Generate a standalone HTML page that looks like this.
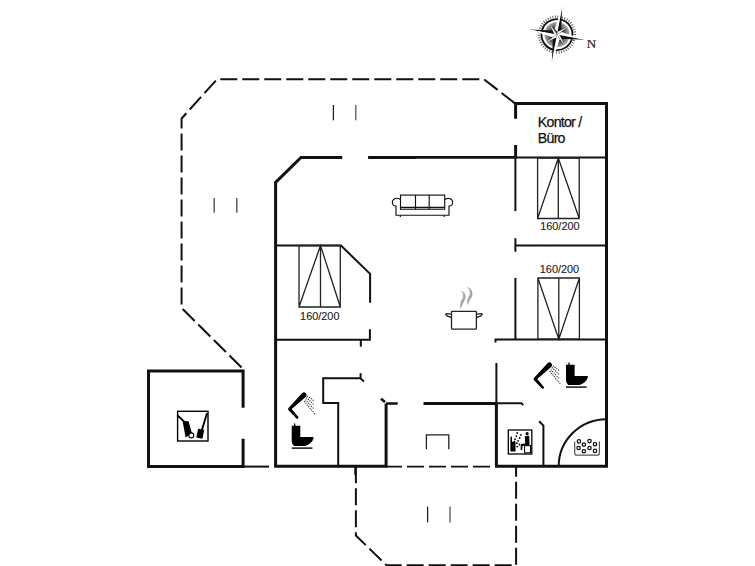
<!DOCTYPE html>
<html><head><meta charset="utf-8">
<style>
html,body{margin:0;padding:0;background:#fff;width:755px;height:566px;overflow:hidden}
svg{display:block}
text{font-family:"Liberation Sans",sans-serif;fill:#222}
</style></head><body>
<svg width="755" height="566" viewBox="0 0 755 566">
<g fill="none" stroke="#111" stroke-linecap="butt">
<!-- terraces dashed -->
<g stroke-width="2" stroke-dasharray="17 5">
<path d="M515,103.4 L484,79.3 L217,79.3 L181.6,118.5 L181.6,308 L243.1,369"/>
<path d="M355.9,466.3 L355.9,535.5 L386.5,565.2 L516.1,565.2 L516.1,466.3"/>
<path d="M386,466.6 L494,466.6" stroke-width="1.8" stroke-dashoffset="1"/>
</g>
<!-- terrace marks -->
<g stroke-width="1.3" stroke="#222">
<path d="M333.4,105V120.3"/><path d="M355.8,105V120.3" stroke="#555"/>
<path d="M214.2,198V212.8" stroke="#444"/><path d="M236.8,198V212.8" stroke="#444"/>
<path d="M427.6,506.6V522.4"/><path d="M450,506.6V522.4" stroke="#555"/>
</g>
<!-- thick walls -->
<g stroke-width="3">
<path d="M342.2,157.4 H301 L275.6,182.4 V466.2"/>
<path d="M368.1,157.4 H416.3"/>
<path d="M416,157.4 H515.5" stroke-width="2.6"/>
<path d="M515.6,118.7 V103.4 H606.5 V466.3 H496.4 V403.5"/>
<path d="M515.6,145 V157.4"/>
<path d="M274.1,466.2 H386.1 V403.5"/>
<path d="M423.5,403.5 H496.4"/>
<path d="M243.1,407.8 V371 H148.5 V466.6 H243.1 V438.8"/>
</g>
<!-- thin walls -->
<g stroke-width="2">
<path d="M515.6,157.4 H606.5"/>
<path d="M515.4,157.4 V211.1"/>
<path d="M515.4,238.2 V251.7 M515.4,245.6 H606.5"/>
<path d="M515.4,277.9 V339.6"/>
<path d="M275.6,245.6 H341 L370.1,273.9 V302.7"/>
<path d="M275.6,339.7 H369.9 V329.2"/>
<path d="M360.8,339.7 V346.7"/>
<path d="M323.2,378.2 H360.3 L364,381.4 M360.6,373.2 V378.2"/>
<path d="M323.2,377.2 V403.1 H338.2 V466.2"/>
<path d="M386.1,403.5 H397.7 M381,398.7 L385,401.9" stroke-width="2.6"/>
<path d="M495.5,342.5 V339.6 H606.5"/>
<path d="M496.4,363 V403.5"/>
<path d="M496.4,403.2 H521.4 L523.2,405.2"/>
<path d="M539.1,421.3 L543.4,425.6 V466.3"/>
<path d="M243.1,466.6 H269.1"/>
<path d="M355.3,466.3 V475"/>
<path d="M558.7,466.3 A47.8,47.1 0 0 1 606.5,419.2"/>
</g>
<!-- beds -->
<g stroke-width="1.3" stroke="#222">
<path d="M537.6,158 H579.2 V218.5 H537.6 Z M558.3,158 V218.5 M537.6,218.5 L558.3,158 L579.2,218.5"/>
<path d="M537.9,278 H579.4 V339.2 H537.9 Z M558.8,278 V339.2 M537.9,278 L558.8,339.2 L579.4,278"/>
<path d="M299,245.5 H340.3 V307 H299 Z M320.5,245.5 V307 M299,307 L320.5,245.5 L340.3,307"/>
</g>
<!-- step -->
<path d="M426.4,449.2 V434.8 H448.8 V449.2" stroke-width="1.3" stroke="#222"/>
</g>
<g font-size="10.9" text-anchor="middle" style="fill:#1a1a1a;stroke:#1a1a1a;stroke-width:0.12">
<text x="559.9" y="229.8">160/200</text>
<text x="559.5" y="273">160/200</text>
<text x="319.8" y="320.4">160/200</text>
</g>
<text x="537.8" y="126.8" font-size="14.2" letter-spacing="-0.75" style="fill:#111;stroke:#111;stroke-width:0.25">Kontor /</text>
<text x="537.8" y="143.2" font-size="14.2" letter-spacing="-0.75" style="fill:#111;stroke:#111;stroke-width:0.25">Büro</text>

<g transform="translate(291.7,423)"><path d="M0,2.8 H2.2 L2.6,0.3 H3.4 L3.8,2.8 H8.6 V14 H21.8 V15.5 Q20,21 13.5,23 H2.3 Q0.3,21.5 0,18.5 Z" fill="#000"/><rect x="0" y="24.4" width="20.7" height="1.4" fill="#000"/></g>
<g transform="translate(566,362)"><path d="M0,2.8 H2.2 L2.6,0.3 H3.4 L3.8,2.8 H8.6 V14 H21.8 V15.5 Q20,21 13.5,23 H2.3 Q0.3,21.5 0,18.5 Z" fill="#000"/><rect x="0" y="24.4" width="20.7" height="1.4" fill="#000"/></g>
<g transform="translate(-245.5,30)">
<path d="M547.77,363.06 L534.17,377.76 Q532.84,378.90 534.07,380.14 L541.89,388.38 A1.20,1.20 0 0 0 543.71,386.82 L537.24,379.07 L551.43,366.74 A2.60,2.60 0 0 0 547.77,363.06 Z" fill="#000"/>
<g stroke="#222" stroke-width="1.05" stroke-dasharray="1.1 1.1" fill="none">
<path d="M552.8,365.9 L559.2,370.7"/><path d="M551.8,367.5 L559.7,374.9"/><path d="M550.7,369.6 L559.2,378.6"/><path d="M549.7,371.2 L560.3,383.9"/>
</g>
</g>
<g>
<path d="M547.77,363.06 L534.17,377.76 Q532.84,378.90 534.07,380.14 L541.89,388.38 A1.20,1.20 0 0 0 543.71,386.82 L537.24,379.07 L551.43,366.74 A2.60,2.60 0 0 0 547.77,363.06 Z" fill="#000"/>
<g stroke="#222" stroke-width="1.05" stroke-dasharray="1.1 1.1" fill="none">
<path d="M552.8,365.9 L559.2,370.7"/><path d="M551.8,367.5 L559.7,374.9"/><path d="M550.7,369.6 L559.2,378.6"/><path d="M549.7,371.2 L560.3,383.9"/>
</g>
</g>
<!-- sauna -->
<g>
<rect x="508.3" y="430" width="23.5" height="24" fill="none" stroke="#000" stroke-width="1.3"/>
<path d="M510.4,451.6 V437 Q511.2,435.8 512,437 V441.5 L513,442 L514.5,440.5 L515.5,442 V451.6 Z" fill="#000"/>
<g fill="#000"><circle cx="517.2" cy="433" r="0.9"/><circle cx="520.9" cy="434.9" r="0.9"/><circle cx="516.3" cy="436.1" r="0.9"/><circle cx="519.7" cy="438" r="0.9"/><circle cx="515.1" cy="439.2" r="0.9"/><circle cx="518.2" cy="440.8" r="0.9"/><circle cx="516.9" cy="443.2" r="0.9"/><circle cx="519.4" cy="444.5" r="0.9"/><circle cx="517.2" cy="446.6" r="0.9"/>
<circle cx="527.1" cy="433.7" r="1.6"/>
<path d="M524.8,436.3 L529.2,435.8 L529.6,445.5 L522.5,446 L522.2,450 L520.6,450 L520.8,444 L525.2,443.5 Z"/></g>
<rect x="524.6" y="445.7" width="5.9" height="7.1" fill="#fff" stroke="#000" stroke-width="1"/>
</g>
<!-- whirlpool -->
<g fill="none" stroke="#333" stroke-width="1.1">
<path d="M574.7,441.6 V452.9 Q574.7,455.2 577,455.2 H597 Q599.4,455.2 599.4,452.9 V441.6" stroke="#555" stroke-width="1.2"/>
<g fill="#fff" stroke="#111" stroke-width="1.25">
<circle cx="578.9" cy="441.4" r="1.7"/><circle cx="583.9" cy="444.6" r="1.7"/><circle cx="589.5" cy="441.1" r="1.7"/><circle cx="595" cy="444.3" r="1.7"/>
<circle cx="578.6" cy="448" r="1.7"/><circle cx="583.9" cy="451.2" r="1.7"/><circle cx="589.5" cy="448" r="1.7"/><circle cx="595" cy="450.9" r="1.7"/>
</g></g>
<!-- storage -->
<g>
<rect x="177.6" y="411.3" width="30.4" height="29.7" fill="none" stroke="#000" stroke-width="1.4"/>
<path d="M177.8,415.6 L184,421.5" stroke="#000" stroke-width="1.9"/>
<path d="M182.6,421 L188.6,421.2 L192,433.5 L185.6,437.4 Z" fill="#000"/>
<circle cx="191.3" cy="435.4" r="2.5" fill="#fff" stroke="#000" stroke-width="1.1"/>
<path d="M207,413.3 L201.9,430" stroke="#000" stroke-width="1.9"/>
<path d="M198.2,428.8 L204.2,429.8 L202.5,438.8 L196.3,437.6 Z" fill="#000"/>
</g>
<!-- pot -->
<g fill="none" stroke="#222" stroke-width="1.3">
<rect x="451.5" y="311.3" width="24.9" height="17.9" rx="0.8"/>
<path d="M451.5,314.2 L446.5,313.6 Q445,314.5 446.5,315.6 L451.5,317.6"/>
<path d="M476.4,314.2 L481.4,313.6 Q482.9,314.5 481.4,315.6 L476.4,317.6"/>
<path d="M460.7,309.6 C459.3,304 460.8,301 462.6,298 C463.8,295.5 463.2,292.8 460.8,290.4 C464.8,292 466.4,295 465.4,298.5 C464.4,302 461.5,305 460.7,309.6 Z" fill="#a8a8a8" stroke="none"/>
<path d="M467.6,305.4 C466.3,301 467.8,298 469.3,295.5 C470.5,293 470,289.5 466.8,286.6 C471.5,288.5 473.2,292 472.3,295.5 C471.3,299 468.5,301.5 467.6,305.4 Z" fill="#a8a8a8" stroke="none"/>
</g>
<!-- sofa -->
<g fill="#fff" stroke="#111" stroke-width="1.15">
<path d="M400.5,199.6 Q396.8,197.2 393.8,199.2 Q391.2,202 393.2,204.8 Q394.3,205.9 396,206 V215.2 H449 V206 Q450.7,205.9 451.8,204.8 Q453.8,202 451.2,199.2 Q448.2,197.2 444.7,199.6" fill="none"/>
<rect x="400.5" y="195.1" width="44.2" height="14.1"/>
<path d="M415.5,195.1 V209.2 M429.2,195.1 V209.2 M400.5,207.3 H444.7 M400.3,215.2 V217 M444.2,215.2 V217" fill="none"/>
</g>
<!-- compass -->
<defs><radialGradient id="cg"><stop offset="0" stop-color="#666"/><stop offset="0.6" stop-color="#555"/><stop offset="1" stop-color="#aaa"/></radialGradient></defs>
<g transform="translate(557,34.6) rotate(10.5)">
<circle r="17.9" fill="none" stroke="#555" stroke-width="2.6" stroke-dasharray="0.85 1.6"/>
<circle r="15.5" fill="none" stroke="#111" stroke-width="1.8"/>
<circle r="12.6" fill="url(#cg)"/>
<g>
<path d="M0,0 L3.4,-4 L0,-28.5 Z" fill="#111"/><path d="M0,0 L-3.4,-4 L0,-28.5 Z" fill="#fff"/>
<path d="M0,0 L1.9,-2.2 L0,-12.8 Z" fill="#222" transform="rotate(45)"/><path d="M0,0 L-1.9,-2.2 L0,-12.8 Z" fill="#fff" transform="rotate(45)"/>
</g>
<g transform="rotate(90)">
<path d="M0,0 L3.4,-4 L0,-28.5 Z" fill="#111"/><path d="M0,0 L-3.4,-4 L0,-28.5 Z" fill="#fff"/>
<path d="M0,0 L1.9,-2.2 L0,-12.8 Z" fill="#222" transform="rotate(45)"/><path d="M0,0 L-1.9,-2.2 L0,-12.8 Z" fill="#fff" transform="rotate(45)"/>
</g>
<g transform="rotate(180)">
<path d="M0,0 L3.4,-4 L0,-28.5 Z" fill="#111"/><path d="M0,0 L-3.4,-4 L0,-28.5 Z" fill="#fff"/>
<path d="M0,0 L1.9,-2.2 L0,-12.8 Z" fill="#222" transform="rotate(45)"/><path d="M0,0 L-1.9,-2.2 L0,-12.8 Z" fill="#fff" transform="rotate(45)"/>
</g>
<g transform="rotate(270)">
<path d="M0,0 L3.4,-4 L0,-28.5 Z" fill="#111"/><path d="M0,0 L-3.4,-4 L0,-28.5 Z" fill="#fff"/>
<path d="M0,0 L1.9,-2.2 L0,-12.8 Z" fill="#222" transform="rotate(45)"/><path d="M0,0 L-1.9,-2.2 L0,-12.8 Z" fill="#fff" transform="rotate(45)"/>
</g>
</g>
<text x="586.8" y="48" font-size="13" style="font-family:'Liberation Serif',serif;fill:#222;stroke:#222;stroke-width:0.2">N</text>
</svg>
</body></html>
